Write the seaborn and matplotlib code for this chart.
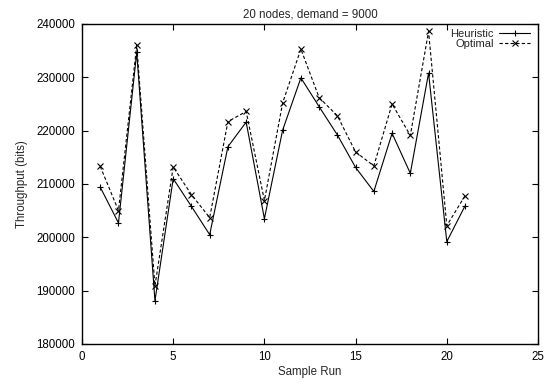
import matplotlib
matplotlib.use("Agg")
import matplotlib.pyplot as plt
import seaborn as sns
import pandas as pd
from matplotlib.ticker import FuncFormatter

runs = list(range(1, 22))
heuristic = [209400, 202700, 234700, 188100, 211000, 205800, 200500, 217000, 221600, 203500,
             220100, 229900, 224500, 219200, 213100, 208600, 219500, 212000, 230800, 199200, 205900]
optimal = [213300, 205000, 236000, 190900, 213200, 208000, 203700, 221700, 223600, 206900,
           225200, 235300, 226200, 222800, 216000, 213400, 225000, 219100, 238600, 202200, 207800]
xticks = [0, 5, 10, 15, 20, 25]
yticks = [180000, 190000, 200000, 210000, 220000, 230000, 240000]

sns.set_style("white")
plt.rcParams['font.family'] = ['Liberation Sans', 'DejaVu Sans']

df = pd.DataFrame({"run": runs, "Heuristic": heuristic, "Optimal": optimal})

fig = plt.figure(figsize=(5.56, 3.84), dpi=100)
ax = fig.add_axes([82/556, 1-344/384, (538-82)/556, (344-24)/384])

sns.lineplot(data=df, x="run", y="Heuristic", ax=ax, color="black", lw=0.8,
             marker="+", markersize=5, markeredgewidth=0.8, markeredgecolor="black",
             label="Heuristic")
sns.lineplot(data=df, x="run", y="Optimal", ax=ax, color="black", lw=0.8,
             marker="x", markersize=3.8, markeredgewidth=0.8, markeredgecolor="black",
             linestyle=(0, (3, 2)), label="Optimal")

ax.set_xlim(0, 25)
ax.set_ylim(180000, 240000)
ax.set_xticks(xticks)
ax.set_yticks(yticks)
ax.yaxis.set_major_formatter(FuncFormatter(lambda v, p: f"{int(v)}"))
ax.tick_params(direction="in", length=4, width=0.8, labelsize=8.3, top=True, right=True,
               bottom=True, left=True, colors="black", pad=5)
for s in ax.spines.values():
    s.set_color("black")
    s.set_linewidth(1.0)
ax.set_xlabel("Sample Run", fontsize=8.3, labelpad=2)
ax.set_ylabel("Throughput (bits)", fontsize=8.3, labelpad=6)
ax.set_title("20 nodes, demand = 9000", fontsize=8.3, pad=5)

leg = ax.legend(loc="upper right", bbox_to_anchor=(1.0, 1.01), frameon=False, fontsize=8,
                markerfirst=False, handlelength=2.8, handletextpad=0.5, labelspacing=0.0,
                borderaxespad=0.3)

fig.savefig("out.png", dpi=100)
